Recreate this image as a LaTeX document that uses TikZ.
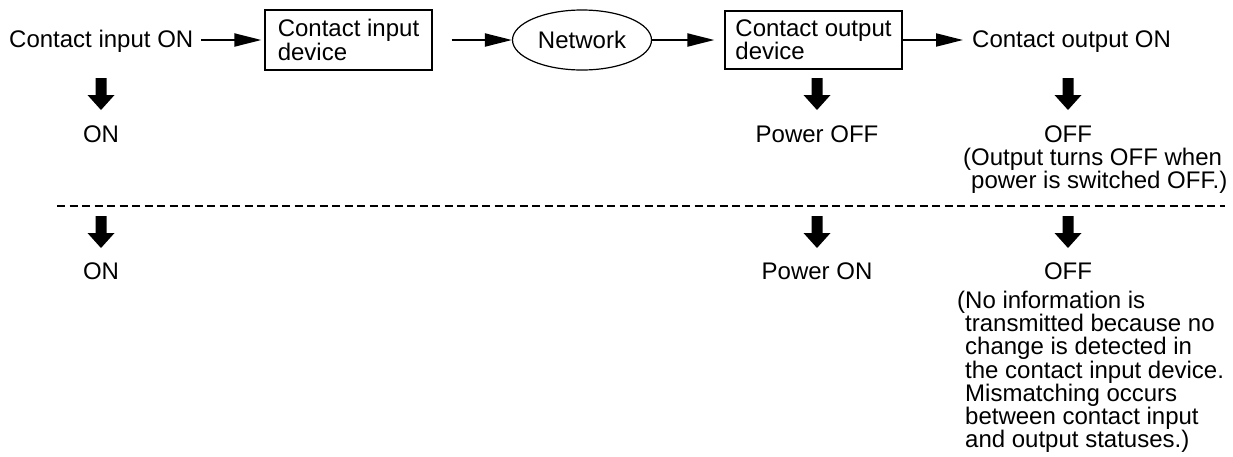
\documentclass[tikz,border=0pt]{standalone}
\usepackage{fontspec}
\setmainfont{Liberation Sans}
\usetikzlibrary{arrows.meta,shapes.geometric}
\tikzset{
  blockarrow/.pic={\fill[black] (-5.5,0) -- (5.5,0) -- (5.5,17) -- (13.5,17) -- (0,32) -- (-13.5,17) -- (-5.5,17) -- cycle;},
}
\begin{document}
\begin{tikzpicture}[x=1pt,y=-1pt,
  every node/.style={inner sep=0pt, font=\fontsize{24}{23.3}\selectfont, text=black},
  arr/.style={line width=2pt, -{Triangle[length=27pt,width=13pt]}},
  boxnode/.style={draw, line width=1.2pt, align=left},
  netnode/.style={draw, ellipse, line width=1.2pt},
  sep/.style={line width=1.2pt, dash pattern=on 8pt off 4.5pt},
  note/.style={anchor=north west, align=left}]
\useasboundingbox (0,0) rectangle (1233,456);
% top row
\node[anchor=base west] (cin) at (9,47) {Contact input ON};
\node[boxnode, minimum width=167pt, minimum height=60pt] (cid) at (348.5,40) {Contact input\\device};
\node[netnode, minimum width=139pt, minimum height=60pt] (net) at (582,40) {Network};
\node[boxnode, minimum width=177pt, minimum height=58pt] (cod) at (813.5,40) {Contact output\\device};
\node[anchor=base west] (cout) at (972,47) {Contact output ON};
\draw[arr, shorten <=8pt, shorten >=3pt] (cin.east |- cid.west) -- (cid.west);
\draw[arr, shorten <=19pt] (cid.east) -- (net.west);
\draw[arr, shorten >=10pt] (net.east) -- (cod.west);
\draw[arr, shorten >=9pt] (cod.east) -- (cod.east -| cout.west);
% first case
\pic at (101,78) {blockarrow};
\pic at (817,78) {blockarrow};
\pic at (1068,78) {blockarrow};
\node[anchor=base] (on1) at (101,142) {ON};
\node[anchor=base] (poff) at (817,142) {Power OFF};
\node[anchor=base] (off1) at (1068,142) {OFF};
\node[note] (note1) at (963,147.5) {(Output turns OFF when\\\phantom{(}power is switched OFF.)};
% separator
\coordinate (dl) at (57,206);
\coordinate (dr) at (1225,206);
\draw[sep] (dl) -- (dr);
% second case
\pic at (101,216) {blockarrow};
\pic at (817,216) {blockarrow};
\pic at (1068,216) {blockarrow};
\node[anchor=base] (on2) at (101,279) {ON};
\node[anchor=base] (pon) at (817,279) {Power ON};
\node[anchor=base] (off2) at (1068,279) {OFF};
\node[note] (note2) at (957,290.5) {(No information is\\\phantom{(}transmitted because no\\\phantom{(}change is detected in\\\phantom{(}the contact input device.\\\phantom{(}Mismatching occurs\\\phantom{(}between contact input\\\phantom{(}and output statuses.)};
\end{tikzpicture}
\end{document}
